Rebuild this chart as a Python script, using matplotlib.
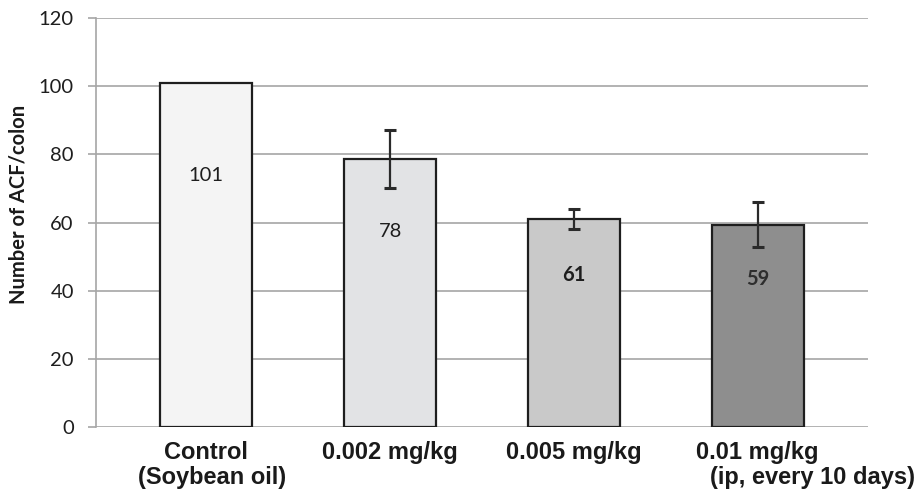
import numpy as np
import matplotlib
matplotlib.use("Agg")
import matplotlib.pyplot as plt
from matplotlib import transforms

# data
groups = ["Control", "0.002 mg/kg", "0.005 mg/kg", "0.01 mg/kg"]
subtitles = ["(Soybean oil)", "", "", "(ip, every 10 days)"]
means = [101, 78.6, 61, 59.4]
errors = [0, 8.5, 3, 6.5]
value_labels = ["101", "78", "61", "59"]
y_ticks = [0, 20, 40, 60, 80, 100, 120]

# styling
bar_colors = ["#f4f4f4", "#e2e3e5", "#c9c9c9", "#8e8e8e"]
label_colors = ["#1e1e1e", "#1e1e1e", "#1e1e1e", "#2e2e2e"]
label_weights = ["normal", "normal", "bold", "bold"]
sub_shift = [0.03, 0, 0, 0.3]
grid_gray = "#a6a6a6"

fig = plt.figure(figsize=(9.18, 4.95), dpi=100)
ax = fig.add_axes([96 / 918, 1 - 427 / 495, 772 / 918, 409 / 495])

x = np.arange(len(groups))
ax.bar(x, means, width=0.5, color=bar_colors, edgecolor="#1e1e1e",
       linewidth=1.6, zorder=3)
for i in range(len(groups)):
    if errors[i] > 0:
        ax.errorbar(x[i], means[i], yerr=errors[i], fmt="none", ecolor="#2a2a2a",
                    elinewidth=1.6, capsize=4, capthick=2.2, zorder=4)
    ax.text(x[i], means[i] * 0.73, value_labels[i], ha="center", va="center",
            fontsize=14.5, family="Lato", color=label_colors[i],
            fontweight=label_weights[i], zorder=5)

ax.set_xlim(-0.6, 3.6)
ax.set_ylim(0, 120)
ax.set_yticks(y_ticks)
ax.yaxis.grid(True, color=grid_gray, linewidth=1.2, zorder=0)
ax.set_axisbelow(True)

for s in ["top", "right", "bottom"]:
    ax.spines[s].set_visible(False)
ax.spines["left"].set_color(grid_gray)
ax.spines["left"].set_linewidth(1.2)
ax.spines["left"].set_zorder(2)

ax.tick_params(axis="y", length=6, width=1.2, color=grid_gray, pad=10,
               labelsize=14.5, labelcolor="#1e1e1e")
for lab in ax.get_yticklabels():
    lab.set_family("Lato")
ax.set_xticks([])

# category labels (two lines)
trans = transforms.blended_transform_factory(ax.transData, ax.transAxes)
for i in range(len(groups)):
    ax.text(x[i], -32 / 409, groups[i], transform=trans, ha="center",
            va="baseline", fontsize=17, fontweight="bold",
            family="Liberation Sans", color="#1a1a1a", clip_on=False)
    if subtitles[i]:
        ax.text(x[i] + sub_shift[i], -57 / 409, subtitles[i], transform=trans,
                ha="center", va="baseline", fontsize=17, fontweight="bold",
                family="Liberation Sans", color="#1a1a1a", clip_on=False)

fig.text(19 / 918, 1 - 204 / 495, "Number of ACF/colon", rotation=90,
         ha="center", va="center", fontsize=14.5, fontweight="bold",
         family="Lato", color="#1a1a1a")

fig.savefig("out.png", dpi=100)
